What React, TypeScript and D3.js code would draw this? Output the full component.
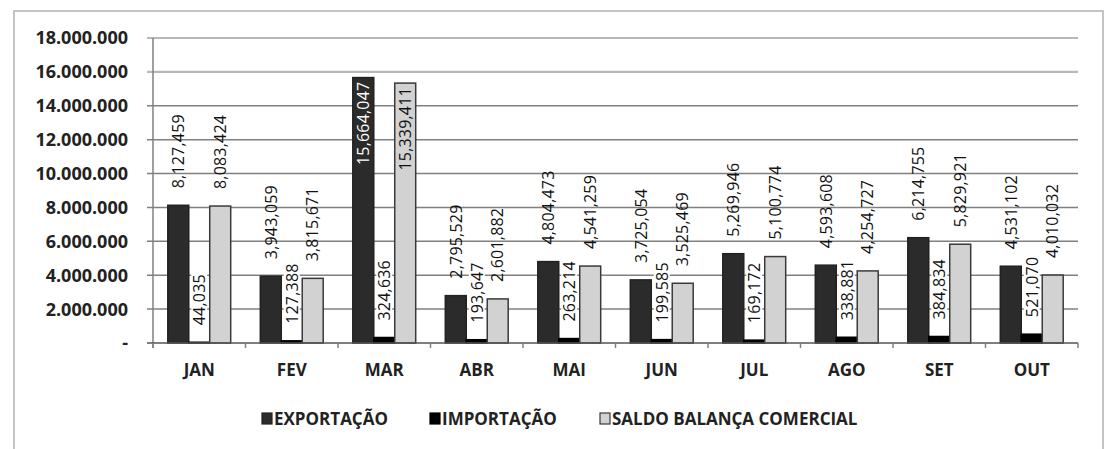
import React from 'react';
import * as d3 from 'd3';

const months = ['JAN', 'FEV', 'MAR', 'ABR', 'MAI', 'JUN', 'JUL', 'AGO', 'SET', 'OUT'];
const exportacao = [8127459, 3943059, 15664047, 2795529, 4804473, 3725054, 5269946, 4593608, 6214755, 4531102];
const importacao = [44035, 127388, 324636, 193647, 263214, 199585, 169172, 338881, 384834, 521070];
const saldo = [8083424, 3815671, 15339411, 2601882, 4541259, 3525469, 5100774, 4254727, 5829921, 4010032];
const seriesNames = ['EXPORTAÇÃO', 'IMPORTAÇÃO', 'SALDO BALANÇA COMERCIAL'];
const yTicks = [0, 2000000, 4000000, 6000000, 8000000, 10000000, 12000000, 14000000, 16000000, 18000000];

const W = 1105;
const H = 449;
const plot = { left: 153, right: 1078, top: 38, bottom: 343 };

const fills = ['#2b2b2b', '#000000', '#d2d2d2'];
const strokes = ['#222', '#000', '#3a3a3a'];

const ptBR = d3.formatLocale({ decimal: ',', thousands: '.', grouping: [3], currency: ['R$', ''] });
const tickFmt = (d: number) => (d === 0 ? '-' : ptBR.format(',')(d));
const labelFmt = d3.format(',');

export default function App() {
  const y = d3.scaleLinear().domain([0, 18000000]).range([plot.bottom, plot.top]);
  const x0 = d3.scaleBand().domain(months).range([plot.left, plot.right]).paddingInner(0.32).paddingOuter(0.16);
  const x1 = d3.scaleBand().domain(seriesNames).range([0, x0.bandwidth()]);
  const step = x0.step();
  const data = [exportacao, importacao, saldo];

  const font = "'Open Sans', sans-serif";

  return (
    <svg width={W} height={H} style={{ position: 'absolute', left: 0, top: 0, background: '#fff' }}>
      {/* outer frame */}
      <rect x={14} y={11} width={1089} height={460} fill="none" stroke="#c4c4c4" strokeWidth={2} />

      {/* grid + y ticks */}
      {yTicks.map((t) => (
        <g key={t}>
          {t > 0 && (
            <line x1={plot.left - 6} x2={plot.right} y1={y(t)} y2={y(t)}
              stroke={t >= 16000000 ? '#b8b8b8' : '#808080'} strokeWidth={t >= 16000000 ? 2.2 : 1.5} />
          )}
          <text x={128} y={y(t)} dy="0.36em" textAnchor="end" fontFamily={font} fontWeight={700}
            fontSize={18} fill="#222">{tickFmt(t)}</text>
        </g>
      ))}
      <line x1={plot.left} x2={plot.left} y1={plot.top} y2={plot.bottom + 5} stroke="#808080" strokeWidth={1.5} />

      {/* bars */}
      {months.map((m, i) => (
        <g key={m} transform={`translate(${x0(m)},0)`}>
          {seriesNames.map((s, k) => {
            const v = data[k][i];
            return (
              <rect key={s} x={x1(s)} y={y(v)} width={x1.bandwidth()} height={plot.bottom - y(v)}
                fill={fills[k]} stroke={strokes[k]} strokeWidth={1.5} />
            );
          })}
        </g>
      ))}

      {/* x axis */}
      <line x1={plot.left - 6} x2={plot.right} y1={plot.bottom} y2={plot.bottom} stroke="#555" strokeWidth={1.5} />
      {d3.range(months.length + 1).map((j) => (
        <line key={j} x1={plot.left + j * step} x2={plot.left + j * step} y1={plot.bottom} y2={plot.bottom + 5}
          stroke="#808080" strokeWidth={1.5} />
      ))}
      {months.map((m) => (
        <text key={m} x={(x0(m) as number) + x0.bandwidth() / 2} y={376} textAnchor="middle"
          fontFamily={font} fontWeight={700} fontSize={17} fill="#222">{m}</text>
      ))}

      {/* data labels */}
      {months.map((m, i) => (
        <g key={m} transform={`translate(${x0(m)},0)`}>
          {seriesNames.map((s, k) => {
            const v = data[k][i];
            const txt = labelFmt(v);
            const cx = (x1(s) as number) + x1.bandwidth() / 2;
            const len = txt.length * 8.4;
            const top = y(v);
            const inside = top - 17 - len < plot.top - 20;
            if (inside) {
              return (
                <text key={s} transform={`translate(${cx},${top + 4}) rotate(-90)`} dy="0.36em" textAnchor="end"
                  fontFamily={font} fontSize={16} letterSpacing={0.2} fill={k === 0 ? '#fff' : '#111'}>{txt}</text>
              );
            }
            const base = top - 17;
            return (
              <g key={s}>
                {k === 1 && (
                  <rect x={cx - 8} y={base - len - 2} width={16} height={top - 1.5 - (base - len - 2)} fill="#fff" />
                )}
                <text transform={`translate(${cx},${base}) rotate(-90)`} dy="0.36em" textAnchor="start"
                  fontFamily={font} fontSize={16} letterSpacing={0.2} fill="#111">{txt}</text>
              </g>
            );
          })}
        </g>
      ))}

      {/* legend */}
      {seriesNames.map((s, k) => {
        const lx = [262, 430, 600][k];
        return (
          <g key={s}>
            <rect x={lx} y={413} width={10} height={11} fill={fills[k]} stroke={strokes[k]} strokeWidth={1.2} />
            <text x={lx + 12} y={425} fontFamily={font} fontWeight={700} fontSize={17} fill="#222">{s}</text>
          </g>
        );
      })}
    </svg>
  );
}
